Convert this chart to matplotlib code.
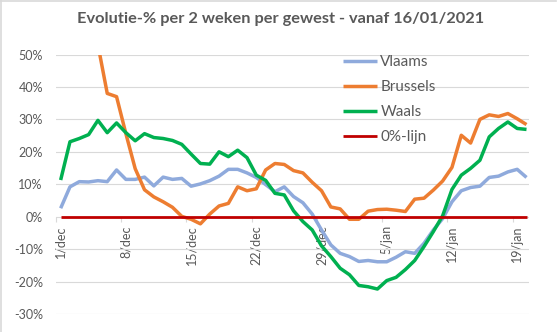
import matplotlib
matplotlib.use("Agg")
import matplotlib.pyplot as plt
from matplotlib.ticker import FixedLocator, FuncFormatter
from matplotlib.lines import Line2D

# ---- data (fraction; one value per day, 1/dec .. 20/jan) ----
vlaams = [0.026, 0.092, 0.108, 0.107, 0.111, 0.108, 0.144, 0.115, 0.115, 0.122,
          0.095, 0.122, 0.115, 0.118, 0.094, 0.101, 0.111, 0.125, 0.146, 0.146,
          0.135, 0.121, 0.099, 0.077, 0.092, 0.062, 0.043, 0.008, -0.041, -0.087,
          -0.113, -0.123, -0.138, -0.135, -0.139, -0.139, -0.125, -0.108, -0.113, -0.082,
          -0.041, -0.006, 0.046, 0.080, 0.090, 0.094, 0.121, 0.125, 0.138, 0.146,
          0.121]
brussels = [0.80, 0.74, 0.66, 0.60, 0.53, 0.38, 0.37, 0.256, 0.148, 0.083,
            0.061, 0.046, 0.029, 0.001, -0.008, -0.022, 0.008, 0.033, 0.041, 0.092,
            0.080, 0.086, 0.144, 0.164, 0.161, 0.142, 0.135, 0.106, 0.080, 0.030,
            0.024, -0.008, -0.008, 0.017, 0.022, 0.023, 0.020, 0.016, 0.054, 0.057,
            0.082, 0.110, 0.152, 0.251, 0.227, 0.300, 0.314, 0.309, 0.318, 0.302,
            0.284]
waals = [0.113, 0.231, 0.241, 0.253, 0.297, 0.259, 0.289, 0.259, 0.234, 0.256,
         0.244, 0.241, 0.235, 0.223, 0.193, 0.164, 0.162, 0.200, 0.185, 0.205,
         0.182, 0.128, 0.112, 0.072, 0.067, 0.018, -0.015, -0.041, -0.090, -0.123,
         -0.159, -0.179, -0.212, -0.216, -0.223, -0.197, -0.187, -0.163, -0.135, -0.092,
         -0.046, 0.003, 0.084, 0.128, 0.149, 0.174, 0.246, 0.272, 0.292, 0.272,
         0.269]
nullijn = [0.0] * len(vlaams)

tick_days = [0, 7, 14, 21, 28, 35, 42, 49]
tick_labels = ["1/dec", "8/dec", "15/dec", "22/dec", "29/dec", "5/jan", "12/jan", "19/jan"]
y_ticks = [-0.3, -0.2, -0.1, 0.0, 0.1, 0.2, 0.3, 0.4, 0.5]

series_names = ["Vlaams", "Brussels", "Waals", "0%-lijn"]
series_colors = ["#8FAADC", "#ED7D31", "#00B050", "#C00000"]
series_widths = [2.5, 2.5, 2.5, 2.0]

plt.rcParams['font.family'] = ['Lato', 'DejaVu Sans']
TXT = "#595959"
GRID = "#D9D9D9"

fig = plt.figure(figsize=(5.6, 3.32), dpi=100)
W, H = 560.0, 332.0
ax = fig.add_axes([56 / W, 18 / H, (529.3 - 56) / W, (314 - 54.5) / H])

days = list(range(len(vlaams)))
for vals, name, col, lw in zip([vlaams, brussels, waals, nullijn], series_names,
                               series_colors, series_widths):
    ax.plot(days, vals, color=col, lw=lw, label=name, solid_joinstyle='round',
            solid_capstyle='butt')

ax.set_xlim(-0.5, 50.3)
ax.set_ylim(-0.30, 0.50)

ax.yaxis.set_major_locator(FixedLocator(y_ticks))
ax.yaxis.set_major_formatter(FuncFormatter(lambda v, p: f"{int(round(v * 100))}%"))
ax.yaxis.grid(True, color=GRID, lw=0.8)
ax.set_axisbelow(True)
ax.tick_params(axis='y', length=0, pad=9.5, labelsize=9, labelcolor=TXT)

ax.xaxis.set_major_locator(FixedLocator(tick_days))
ax.set_xticklabels(tick_labels)
ax.xaxis.set_minor_locator(FixedLocator([d - 0.5 for d in tick_days]))
ax.tick_params(axis='x', which='major', length=0, pad=6, labelsize=9,
               labelcolor=TXT, labelrotation=90)
ax.tick_params(axis='x', which='minor', length=3.5, width=0.8, color=GRID, direction='out')

for s in ['top', 'right', 'left']:
    ax.spines[s].set_visible(False)
ax.spines['bottom'].set_position(('data', 0))
ax.spines['bottom'].set_visible(False)

leg = fig.legend(loc='upper left', bbox_to_anchor=(343 / W, 1 - 55 / H),
                 frameon=False, fontsize=11, handlelength=2.2, handletextpad=0.25,
                 labelspacing=0.72, borderpad=0, borderaxespad=0, labelcolor=TXT)

fig.text(281 / W, 1 - 19 / H, "Evolutie-% per 2 weken per gewest - vanaf 16/01/2021",
         ha='center', va='center', fontsize=11.8, fontweight='bold', color=TXT)

fig.add_artist(Line2D([0, 556 / W], [1 - 0.5 / H, 1 - 0.5 / H], transform=fig.transFigure,
                      color=GRID, lw=1.2))
fig.add_artist(Line2D([0.5 / W, 0.5 / W], [0, 1], transform=fig.transFigure,
                      color=GRID, lw=1.2))

fig.savefig("out.png", dpi=100)
